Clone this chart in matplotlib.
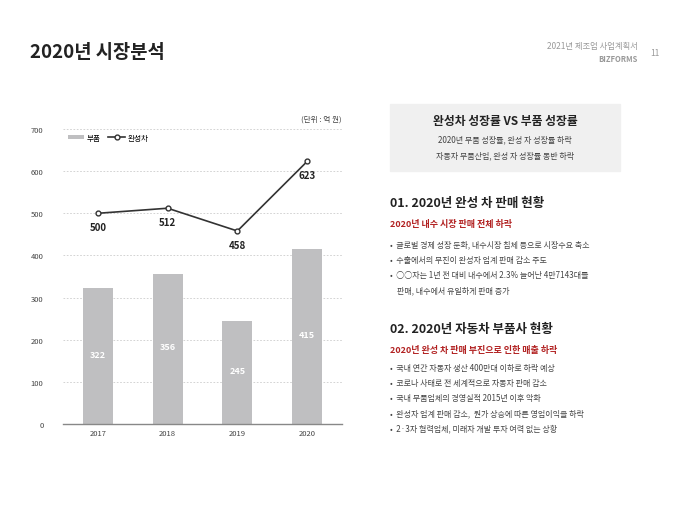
import matplotlib
matplotlib.use("Agg")
import matplotlib.pyplot as plt
from matplotlib.patches import Rectangle

plt.rcParams['font.family'] = ['Noto Sans CJK KR', 'DejaVu Sans']

years = ["2017", "2018", "2019", "2020"]
parts = [322, 356, 245, 415]
cars = [500, 512, 458, 623]
yticks = [0, 100, 200, 300, 400, 500, 600, 700]

W, H = 680, 510
fig = plt.figure(figsize=(6.8, 5.1), dpi=100)


def fx(px):
    return px / W


def fy(py):
    return 1 - py / H


def txt(px, py, s, **kw):
    fig.text(fx(px), fy(py), s, **kw)


# header
txt(30, 52, "2020년 시장분석", fontsize=13.5, fontweight="bold", color="#222222", va="center")
txt(638, 47, "2021년 제조업 사업계획서", fontsize=6, color="#999999", ha="right", va="center")
txt(638, 59, "BIZFORMS", fontsize=5.5, color="#999999", ha="right", va="center", fontweight="bold")
txt(655, 53, "11", fontsize=6, color="#999999", ha="center", va="center")

# chart
ax = fig.add_axes([fx(63), fy(425), fx(342) - fx(63), fy(130) - fy(425)])
x = range(len(years))
bars = ax.bar(x, parts, width=0.43, color="#bfbfc1", label="부품", zorder=2)
line, = ax.plot(x, cars, color="#333333", lw=1.2, marker="o", ms=3.5, mfc="white",
                mec="#333333", label="완성차", zorder=3)
for i, v in enumerate(parts):
    ax.text(i, v / 2 + 5, str(v), color="white", ha="center",
            va="center", fontsize=6.5, fontweight="bold")
for i, v in enumerate(cars):
    ax.text(i, v - 33, str(v), color="#222222", ha="center",
            va="center", fontsize=7, fontweight="bold")
ax.set_xlim(-0.5, 3.5)
ax.set_ylim(0, 700)
ax.set_yticks(yticks)
ax.set_xticks(list(x))
ax.set_xticklabels(years)
ax.tick_params(length=0, labelsize=5.5, colors="#444444")
ax.tick_params(axis="y", pad=14)
ax.grid(axis="y", ls=(0, (2, 2)), color="#cccccc", lw=0.6, zorder=0)
for s in ["top", "right", "left"]:
    ax.spines[s].set_visible(False)
ax.spines["bottom"].set_color("#888888")
ax.spines["bottom"].set_linewidth(1)
ax.set_facecolor("none")
ax.legend([bars, line], ["부품", "완성차"], loc="upper left", bbox_to_anchor=(0.0, 1.0),
          ncol=2, frameon=False, fontsize=5.5, handlelength=2.2, handleheight=0.4,
          columnspacing=1.0, handletextpad=0.3, borderaxespad=0.2)
txt(342, 120, "(단위 : 억 원)", fontsize=5.5, color="#444444", ha="right", va="center")

# right panel
fig.patches.append(Rectangle((fx(390), fy(172)), fx(620) - fx(390), fy(105) - fy(172),
                             transform=fig.transFigure, color="#f0f0f0", zorder=0))
txt(505, 122, "완성차 성장률 VS 부품 성장률", fontsize=8.5, fontweight="bold",
    color="#222222", ha="center", va="center")
txt(505, 140, "2020년 부품 성장률, 완성 차 성장률 하락", fontsize=5.8, color="#444444",
    ha="center", va="center")
txt(505, 156, "자동차 부품산업, 완성 자 성장률 동반 하락", fontsize=5.8, color="#444444",
    ha="center", va="center")

red = "#b22222"
txt(390, 204, "01. 2020년 완성 차 판매 현황", fontsize=9, fontweight="bold",
    color="#222222", va="center")
txt(390, 225, "2020년 내수 시장 판매 전체 하락", fontsize=6.5, fontweight="bold",
    color=red, va="center")
items1 = [
    (245, "•  글로벌 경제 성장 둔화, 내수시장 침체 등으로 시장수요 축소"),
    (261, "•  수출에서의 부진이 완성자 업계 판매 감소 주도"),
    (276, "•  ○○차는 1년 전 대비 내수에서 2.3% 늘어난 4만7143대를"),
    (291, "    판매, 내수에서 유일하게 판매 증가"),
]
for py, s in items1:
    txt(390, py, s, fontsize=5.8, color="#444444", va="center")

txt(390, 329, "02. 2020년 자동차 부품사 현황", fontsize=9, fontweight="bold",
    color="#222222", va="center")
txt(390, 350, "2020년 완성 차 판매 부진으로 인한 매출 하락", fontsize=6.5,
    fontweight="bold", color=red, va="center")
items2 = [
    (369, "•  국내 연간 자동차 생산 400만대 이하로 하락 예상"),
    (384, "•  코로나 사태로 전 세계적으로 자동차 판매 감소"),
    (399, "•  국내 부품업체의 경영실적 2015년 이후 악화"),
    (414, "•  완성자 업계 판매 감소,  원가 상승에 따른 영업이익을 하락"),
    (429, "•  2·3차 협력업체, 미래차 개발 투자 여력 없는 상황"),
]
for py, s in items2:
    txt(390, py, s, fontsize=5.8, color="#444444", va="center")

fig.savefig("out.png", dpi=100)
